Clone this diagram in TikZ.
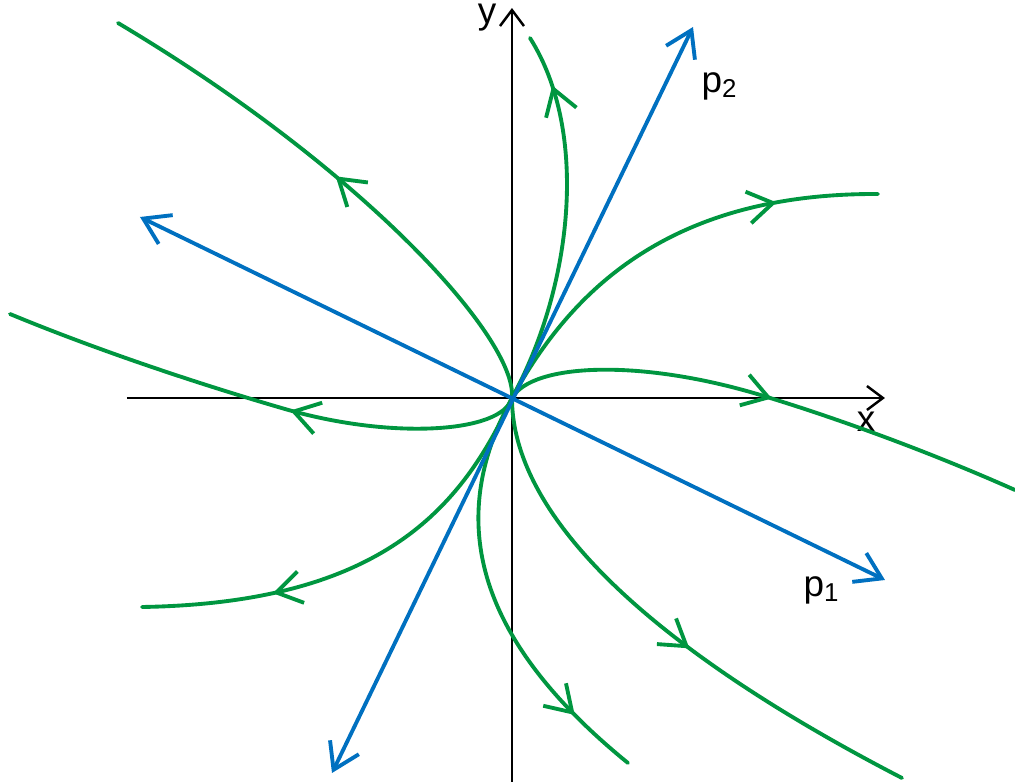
\documentclass[tikz,border=0pt]{standalone}
\usepackage{fontspec}
\setmainfont{Liberation Sans}
\usetikzlibrary{arrows.meta, decorations.markings}
\definecolor{trajc}{RGB}{0,150,64}
\definecolor{eigc}{RGB}{0,112,192}
\tikzset{
  chev/.tip={Straight Barb[length=2.5mm, width=3.2mm]},
  axchev/.tip={Straight Barb[length=1.6mm, width=2.4mm]},
  axline/.style={-{axchev}, line width=0.7pt},
  eig/.style={{chev}-{chev}, draw=eigc, line width=1.1pt, line cap=round},
  traj/.style={draw=trajc, line width=1.1pt, line cap=round, postaction={decorate},
    decoration={markings, mark=at position #1 with {\arrow{chev}}}},
  lbl/.style={font=\fontsize{10.5}{12}\selectfont},
}

\begin{document}
\begin{tikzpicture}
  \useasboundingbox (-5.12,-3.84) rectangle (5.03,3.98);
  \coordinate (O) at (0,0);
  \coordinate (xl) at (-3.85,0);
  \coordinate (xr) at (3.73,0);
  \coordinate (yb) at (0,-3.84);
  \coordinate (yt) at (0,3.90);
  \coordinate (p1a) at (-3.72,1.81);
  \coordinate (p1b) at (3.73,-1.82);
  \coordinate (p2a) at (-1.80,-3.75);
  \coordinate (p2b) at (1.81,3.71);
  % axes
  \draw[axline] (xl) -- (xr);
  \draw[axline] (yb) -- (yt);
  \node[lbl] (xlab) at (3.54,-0.24) {x};
  \node[lbl] (ylab) at (-0.25,3.80) {y};
  % trajectories
  \draw[traj=0.52] (O) .. controls (0.05,0.6) and (-1.5,2.3) .. (-3.94,3.75);
  \draw[traj=0.86] (O) .. controls (0.6,1.1) and (0.78,2.65) .. (0.18,3.60);
  \draw[traj=0.77] (O) .. controls (0.6,1.1) and (1.6,2.05) .. (3.66,2.04);
  \draw[traj=0.51] (O) .. controls (0.2,0.35) and (1.3,0.4) .. (2.55,0.01)
    .. controls (3.3,-0.22) and (4.2,-0.55) .. (5.03,-0.92);
  \draw[traj=0.44] (O) .. controls (-0.1,-0.35) and (-1.2,-0.42) .. (-2.27,-0.11)
    .. controls (-3.2,0.16) and (-4.2,0.5) .. (-5.02,0.84);
  \draw[traj=0.71] (O) .. controls (-0.5,-1.1) and (-1.3,-2.05) .. (-3.70,-2.09);
  \draw[traj=0.83] (O) .. controls (-0.6,-1.1) and (-0.5,-2.3) .. (1.16,-3.65);
  \draw[traj=0.56] (O) .. controls (0,-1.0) and (1.0,-2.3) .. (3.90,-3.80);
  % eigenvectors
  \draw[eig] (p1a) -- (p1b);
  \draw[eig] (p2a) -- (p2b);
  \node[lbl] (p1lab) at (3.10,-1.92) {p\textsubscript{1}};
  \node[lbl] (p2lab) at (2.08,3.12) {p\textsubscript{2}};
\end{tikzpicture}
\end{document}
